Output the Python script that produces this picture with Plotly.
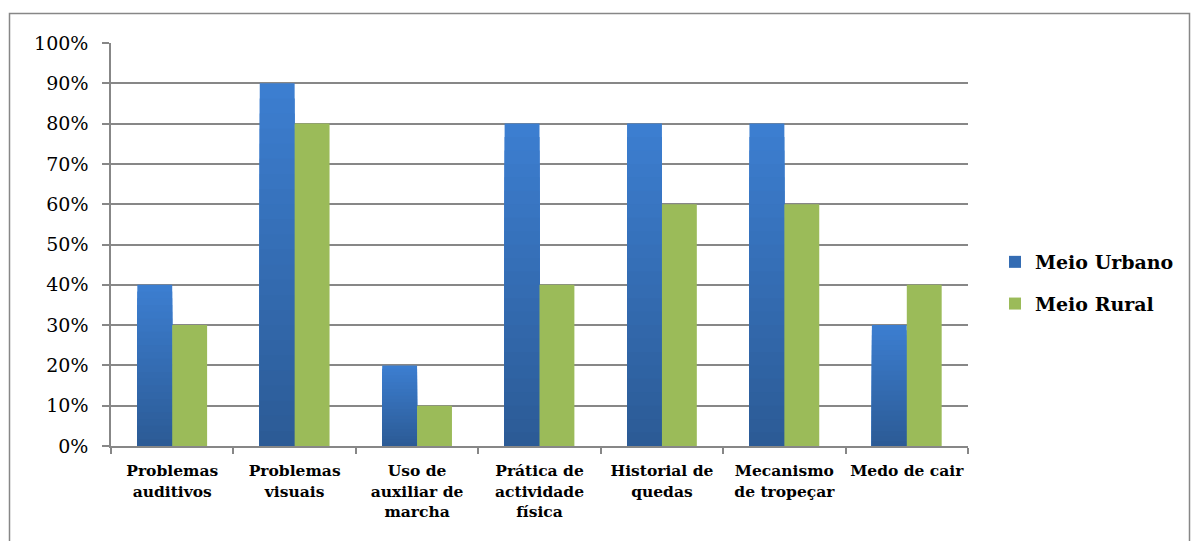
import plotly.graph_objects as go

categories = ["Problemas<br>auditivos", "Problemas<br>visuais", "Uso de<br>auxiliar de<br>marcha",
              "Prática de<br>actividade<br>física", "Historial de<br>quedas", "Mecanismo<br>de tropeçar",
              "Medo de cair"]
urbano = [40, 90, 20, 80, 80, 80, 30]
rural = [30, 80, 10, 40, 60, 60, 40]
yticks = [0, 10, 20, 30, 40, 50, 60, 70, 80, 90, 100]

FONT = "DejaVu Serif"
TOP = (0x3C, 0x7E, 0xD0)
BOT = (0x2C, 0x5B, 0x96)
NSEG = 24

def mix(t):
    return "rgb(%d,%d,%d)" % tuple(round(a + (b - a) * t) for a, b in zip(TOP, BOT))

fig = go.Figure()
# Gradient blue bars: overlaid bars in the same offset group, each shorter and darker
for k in range(NSEG):
    frac = 1 - k / NSEG
    fig.add_trace(go.Bar(x=categories, y=[v * frac for v in urbano], offsetgroup="u",
                         legendgroup="u", showlegend=False, hoverinfo="skip",
                         marker=dict(color=mix(k / (NSEG - 1)), line=dict(width=0))))
fig.add_trace(go.Bar(x=categories, y=[None] * len(categories), name="Meio Urbano", offsetgroup="u",
                     legendgroup="u", marker=dict(color="#346CB3", line=dict(width=0))))
fig.add_trace(go.Bar(x=categories, y=rural, name="Meio Rural", offsetgroup="r", legendgroup="r",
                     marker=dict(color="#9BBB59", line=dict(width=0))))

W, H = 1193, 541
ml, mr, mt, mb = 111, 225, 43, 95
pw, ph = W - ml - mr, H - mt - mb

def px(x):
    return (x - ml) / pw

def py(y):
    return (H - mb - y) / ph

fig.update_layout(
    width=W, height=H,
    margin=dict(l=ml, r=mr, t=mt, b=mb, pad=0, autoexpand=False),
    paper_bgcolor="white", plot_bgcolor="white",
    barmode="group", bargap=0.43, bargroupgap=0,
    font=dict(family=FONT, color="black"),
    showlegend=True,
    legend=dict(x=px(995), y=py(243), xanchor="left", yanchor="top",
                font=dict(size=19, family=FONT, weight="bold"),
                tracegroupgap=14, itemsizing="constant", bgcolor="rgba(0,0,0,0)"),
    xaxis=dict(showline=True, linecolor="#878787", linewidth=1.5, automargin=False, tickangle=0,
               ticks="outside", tickson="boundaries", ticklen=6, tickcolor="#878787", tickwidth=1.5,
               tickfont=dict(size=15.5, family=FONT, weight="bold"), ticklabelstandoff=10,
               showgrid=False),
    yaxis=dict(range=[0, 100], tickvals=yticks, ticktext=[f"{v}%" for v in yticks], automargin=False,
               showline=True, linecolor="#878787", linewidth=1.5,
               ticks="outside", ticklen=7, tickcolor="#878787", tickwidth=1.5, ticklabelstandoff=10,
               showgrid=True, gridcolor="#878787", gridwidth=1.5,
               tickfont=dict(size=19, family=FONT), zeroline=False),
    shapes=[dict(type="rect", xref="paper", yref="paper",
                 x0=px(9.5), x1=px(1189.5), y0=py(560), y1=py(13.5),
                 line=dict(color="#878787", width=1.5), fillcolor="rgba(0,0,0,0)", layer="below")],
)

fig.write_html("out.html")
